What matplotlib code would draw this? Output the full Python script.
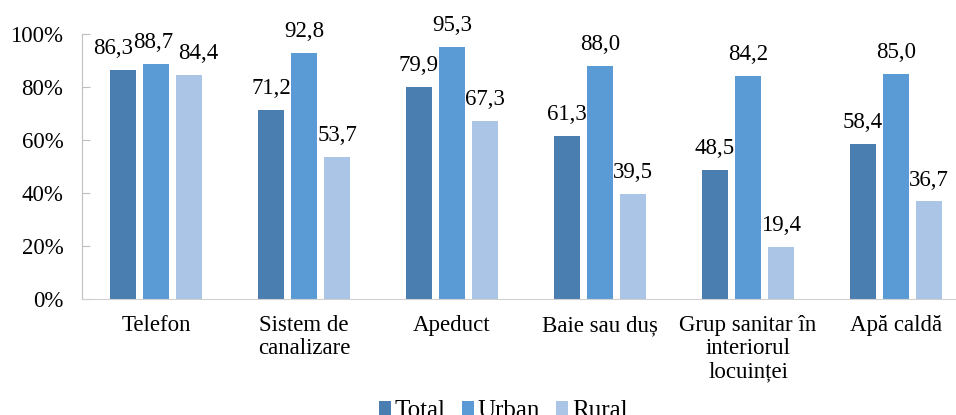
import matplotlib

matplotlib.use("Agg")
import matplotlib.pyplot as plt
import numpy as np
from matplotlib.ticker import FuncFormatter

plt.rcParams["font.family"] = ["Liberation Serif", "DejaVu Serif"]

categories = ["Telefon", "Sistem de\ncanalizare", "Apeduct", "Baie sau duș",
              "Grup sanitar în\ninteriorul\nlocuinței", "Apă caldă"]
series_names = ["Total", "Urban", "Rural"]
total = [86.3, 71.2, 79.9, 61.3, 48.5, 58.4]
urban = [88.7, 92.8, 95.3, 88.0, 84.2, 85.0]
rural = [84.4, 53.7, 67.3, 39.5, 19.4, 36.7]
colors = ["#4a7eb0", "#5b9bd5", "#abc5e7"]

FS = 16.5
# Telefon labels are crowded: spread them sideways (points), like Excel did
NUDGE = {(0, 0): -7, (1, 0): -2, (2, 0): 6.5}

fig = plt.figure(figsize=(9.56, 4.15), dpi=100)
# axes run a little past the right edge, as in the source image
ax = fig.add_axes([0.0858, 0.2807, 0.9289, 0.637])

x = np.arange(len(categories))
width = 0.176
offsets = [-0.223, 0.0, 0.223]
for s, (vals, name, col, off) in enumerate(zip([total, urban, rural], series_names,
                                               colors, offsets)):
    bars = ax.bar(x + off, vals, width, color=col, label=name)
    for i, (b, v) in enumerate(zip(bars, vals)):
        ax.annotate(f"{v:.1f}".replace(".", ","), (b.get_x() + b.get_width() / 2, v),
                    xytext=(NUDGE.get((s, i), 0), 11.5), textcoords="offset points",
                    ha="center", va="baseline", fontsize=FS)

ax.set_xlim(-0.5, len(categories) - 0.5)
ax.set_ylim(0, 100)
ax.set_yticks(range(0, 101, 20))
ax.yaxis.set_major_formatter(FuncFormatter(lambda v, _: f"{v:.0f}%"))
ax.set_xticks(x)
ax.set_xticklabels(categories, fontsize=FS, linespacing=1.12)
ax.tick_params(axis="x", length=0, pad=12)
ax.tick_params(axis="y", labelsize=FS, length=6, direction="in",
               color="#bfbfbf", pad=13.5)

for side in ["top", "right"]:
    ax.spines[side].set_visible(False)
ax.spines["left"].set_color("#bfbfbf")
ax.spines["bottom"].set_color("#d0d0d0")

handles, labels = ax.get_legend_handles_labels()
fig.legend(handles, labels, loc="center", bbox_to_anchor=(503 / 956, 1 - 411 / 415),
           ncol=3, frameon=False, fontsize=18, handlelength=0.48, handleheight=0.48,
           handletextpad=0.15, columnspacing=0.65, borderpad=0)

fig.savefig("out.png", dpi=100)
